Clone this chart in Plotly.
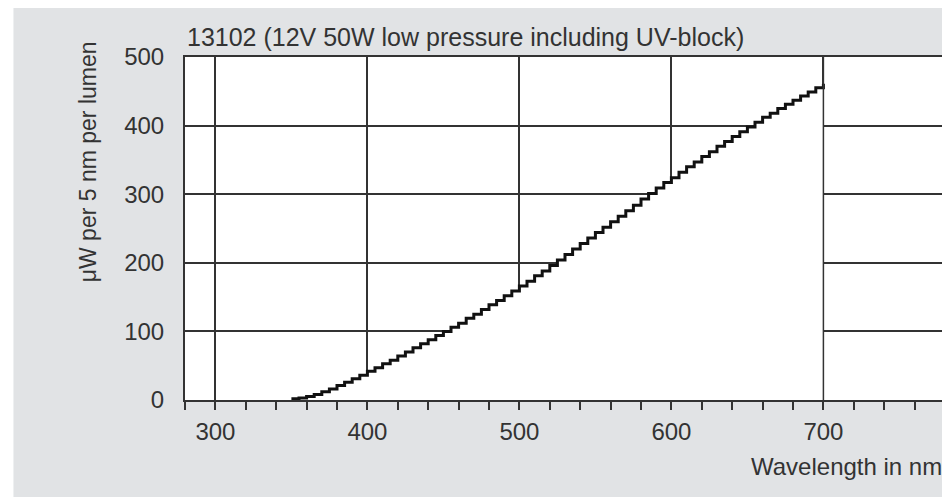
import plotly.graph_objects as go

# Data: spectral power per 5 nm band
wavelength = list(range(350, 705, 5))
power = [2, 3, 5, 8, 12, 16, 21, 26, 31, 36,
         42, 47, 53, 58, 64, 70, 76, 82, 88, 94,
         100, 106, 112, 119, 125, 132, 139, 145, 152, 159,
         166, 173, 181, 188, 196, 204, 212, 220, 228, 236,
         244, 252, 260, 268, 276, 284, 293, 301, 309, 317,
         324, 332, 340, 347, 355, 362, 370, 377, 384, 391,
         398, 405, 412, 418, 425, 431, 437, 443, 449, 455,
         461]
x_ticks = [300, 400, 500, 600, 700]
y_ticks = [0, 100, 200, 300, 400, 500]

title_text = "13102 (12V 50W low pressure including UV-block)"
x_title = "Wavelength in nm"
y_title = "μW per 5 nm per lumen"

# page body has an 8px margin; figure sized/offset to compensate
OFF = 8
W, H = 950 - OFF, 497 - OFF
L, T = 185 - OFF, 57 - OFF
R = W - (947 - OFF)
B = H - (400 - OFF)
pw = W - L - R
ph = H - T - B

def px(xp):
    return (xp - OFF - L) / pw

def py(yp):
    return (H - B - (yp - OFF)) / ph

FONT = "Liberation Sans, Arial, sans-serif"
TXT = "#333333"
LINE = "#333333"
BG = "#e1e3e5"

fig = go.Figure()
fig.add_trace(go.Scatter(
    x=wavelength, y=power, mode="lines",
    line=dict(color="#111111", width=3, shape="hv"),
    fill="tozeroy", fillcolor="white",
    hoverinfo="skip", showlegend=False,
))

fig.update_layout(
    width=W, height=H,
    margin=dict(l=L, r=R, t=T, b=B),
    paper_bgcolor=BG, plot_bgcolor="white",
    font=dict(family=FONT, size=24, color=TXT),
    showlegend=False,
    xaxis=dict(
        range=[280, 780], tickvals=x_ticks,
        showgrid=True, gridcolor=LINE, gridwidth=1.5,
        showline=True, linecolor=LINE, linewidth=2, mirror=True,
        ticks="outside", ticklen=8, tickwidth=1.5, tickcolor=LINE,
        minor=dict(dtick=20, tick0=280, ticks="outside", ticklen=8,
                   tickwidth=1.5, tickcolor=LINE, showgrid=False),
        ticklabelstandoff=1,
        zeroline=False,
    ),
    yaxis=dict(
        range=[0, 500], tickvals=y_ticks,
        showgrid=True, gridcolor=LINE, gridwidth=1.5,
        showline=True, linecolor=LINE, linewidth=2, mirror=True,
        ticks="", ticklabelstandoff=14,
        zeroline=False,
    ),
    shapes=[
        # vertical line at 700 drawn over the fill
        dict(type="line", xref="x", yref="paper", x0=700, x1=700, y0=0, y1=1,
             line=dict(color=LINE, width=1.5), layer="above"),
        # white page margin at the left of the grey panel
        dict(type="rect", xref="paper", yref="paper", x0=px(0), x1=px(13),
             y0=py(497), y1=py(0), fillcolor="white", line=dict(width=0), layer="above"),
    ],
    annotations=[
        dict(text=title_text, xref="paper", yref="paper", x=px(185), y=py(37),
             xanchor="left", yanchor="middle", showarrow=False,
             font=dict(family=FONT, size=25, color=TXT)),
        dict(text=x_title, xref="paper", yref="paper", x=px(946), y=py(466),
             xanchor="right", yanchor="middle", showarrow=False,
             font=dict(family=FONT, size=24, color=TXT)),
        dict(text=y_title, xref="paper", yref="paper", x=px(88), y=py(162),
             xanchor="center", yanchor="middle", showarrow=False, textangle=-90,
             font=dict(family=FONT, size=23, color=TXT)),
    ],
)

fig.write_html("out.html")
